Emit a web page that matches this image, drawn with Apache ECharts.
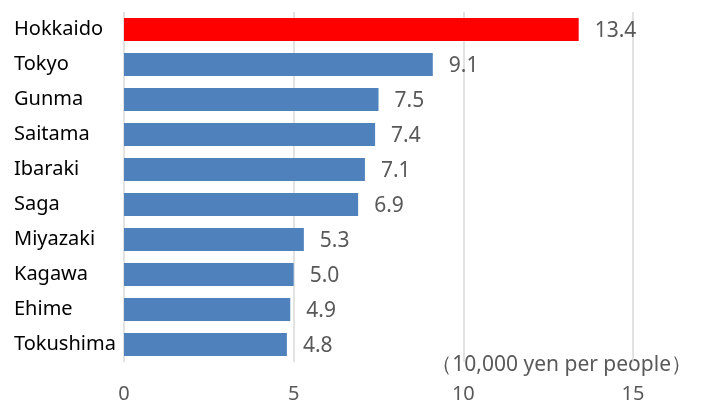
<!DOCTYPE html>
<html>
<head>
<meta charset="utf-8">
<script src="https://cdn.jsdelivr.net/npm/echarts@6/dist/echarts.min.js"></script>
<style>html,body{margin:0;padding:0;background:#fff}#c{width:702px;height:404px}</style>
</head>
<body>
<div id="c"></div>
<script>
var categories = ["Hokkaido","Tokyo","Gunma","Saitama","Ibaraki","Saga","Miyazaki","Kagawa","Ehime","Tokushima"];
var values = [13.4, 9.1, 7.5, 7.4, 7.1, 6.9, 5.3, 5.0, 4.9, 4.8];
var xTicks = [0, 5, 10, 15];
var unitLabel = "（10,000 yen per people）";

var chart = echarts.init(document.getElementById('c'), null, {renderer:'canvas'});
var font = '"Noto Sans", "Open Sans", sans-serif';
chart.setOption({
  animation: false,
  grid: {left:124, right:69, top:12, bottom:41, containLabel:false},
  xAxis: {
    type:'value', min:xTicks[0], max:xTicks[xTicks.length-1], interval:5,
    axisLine:{show:false}, axisTick:{show:false},
    splitLine:{show:true, lineStyle:{color:'#D9D9D9', width:1.5}},
    axisLabel:{color:'#595959', fontSize:20, fontFamily:font, margin:22}
  },
  yAxis: {
    type:'category', data:categories, inverse:true,
    axisLine:{show:false}, axisTick:{show:false},
    axisLabel:{color:'#000', fontSize:20, fontFamily:font, align:'left', margin:110}
  },
  graphic: [{
    type:'text', right:10, top:355,
    style:{text:unitLabel, fill:'#595959', font:'21px ' + font, textAlign:'right'}
  }],
  series: [{
    type:'bar', barCategoryGap:'34%',
    data: values.map(function(v,i){
      return {value:v, itemStyle:{color: i===0 ? '#FF0000' : '#4F81BD'}};
    }),
    label:{show:true, position:'right', distance:16, color:'#595959', fontSize:21, fontFamily:font,
      offset:[0,2],
      formatter:function(p){return p.value.toFixed(1);}}
  }]
});
</script>
</body>
</html>
